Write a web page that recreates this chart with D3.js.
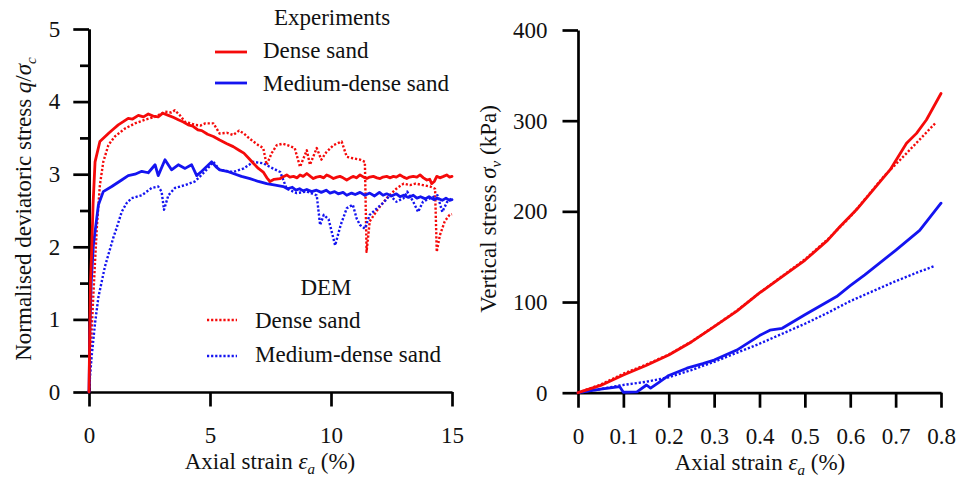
<!DOCTYPE html>
<html><head><meta charset="utf-8">
<script src="https://cdn.jsdelivr.net/npm/d3@7"></script>
<style>
body{margin:0;background:#fff}
text{font-family:"Liberation Serif","Times New Roman",serif;fill:#111}
</style>
</head><body>
<svg id="c" width="956" height="479" xmlns="http://www.w3.org/2000/svg"></svg>
<script>
// ---------------- DATA ----------------
const leftXTicks = [0, 5, 10, 15];
const leftYTicks = [0, 1, 2, 3, 4, 5];
const leftYMinor = [0.5, 1.5, 2.5, 3.5, 4.5];
const rightXTicks = [0, 0.1, 0.2, 0.3, 0.4, 0.5, 0.6, 0.7, 0.8];
const rightXLabels = ["0", "0.1", "0.2", "0.3", "0.4", "0.5", "0.6", "0.7", "0.8"];
const rightYTicks = [0, 100, 200, 300, 400];

// Left panel: normalised deviatoric stress vs axial strain (%)
const expDense = [[0,0],[0.03,0.8],[0.06,1.5],[0.11,1.95],[0.17,2.6],[0.25,3.17],[0.45,3.45],[0.8,3.56],[1.0,3.62],[1.21,3.68],[1.4,3.72],[1.62,3.77],[1.8,3.76],[2.04,3.81],[2.25,3.79],[2.45,3.83],[2.65,3.8],[2.86,3.79],[3.05,3.84],[3.28,3.81],[3.5,3.78],[3.69,3.75],[3.9,3.72],[4.1,3.68],[4.3,3.66],[4.5,3.61],[4.66,3.6],[4.9,3.55],[5.14,3.52],[5.4,3.47],[5.7,3.42],[5.96,3.38],[6.2,3.33],[6.4,3.29],[6.6,3.22],[6.79,3.15],[7.0,3.08],[7.2,3.03],[7.35,2.95],[7.48,2.9],[7.65,2.93],[7.9,2.94],[8.05,2.97],[8.17,2.99],[8.3,2.96],[8.45,2.97],[8.6,2.95],[8.72,2.99],[8.85,2.97],[9.0,3.01],[9.15,2.97],[9.27,2.94],[9.4,2.96],[9.55,2.97],[9.7,2.95],[9.82,2.99],[9.95,2.97],[10.1,2.94],[10.25,2.96],[10.37,2.97],[10.5,2.95],[10.65,2.92],[10.8,2.95],[10.93,2.97],[11.05,2.95],[11.2,2.99],[11.35,2.96],[11.48,2.94],[11.6,2.96],[11.75,2.97],[11.9,2.95],[12.03,2.94],[12.15,2.96],[12.3,2.97],[12.45,2.95],[12.58,2.97],[12.7,2.96],[12.85,2.99],[13.0,2.96],[13.13,2.94],[13.25,2.96],[13.4,2.97],[13.55,2.96],[13.68,2.99],[13.82,2.95],[13.96,2.92],[14.08,2.93],[14.16,2.87],[14.27,2.9],[14.37,2.97],[14.5,2.95],[14.65,2.97],[14.78,2.99],[14.9,2.96],[15,2.97]];
const expMedium = [[0,0],[0.04,0.9],[0.09,1.5],[0.18,2.02],[0.39,2.58],[0.59,2.76],[0.94,2.83],[1.35,2.92],[1.62,2.98],[1.9,3.0],[2.18,3.04],[2.45,3.02],[2.73,3.13],[2.86,2.98],[3.14,3.2],[3.41,3.06],[3.69,3.13],[3.97,3.08],[4.24,3.13],[4.45,2.98],[4.66,3.04],[5.07,3.17],[5.25,3.1],[5.4,3.06],[5.7,3.04],[5.96,3.01],[6.3,2.97],[6.65,2.94],[7.0,2.9],[7.34,2.87],[7.7,2.85],[8.03,2.83],[8.2,2.8],[8.4,2.82],[8.55,2.78],[8.7,2.8],[8.85,2.77],[9.0,2.79],[9.2,2.76],[9.4,2.78],[9.6,2.75],[9.8,2.78],[9.96,2.74],[10.15,2.76],[10.3,2.73],[10.5,2.75],[10.65,2.71],[10.85,2.74],[11.0,2.72],[11.2,2.75],[11.4,2.71],[11.6,2.74],[11.8,2.7],[12.0,2.75],[12.15,2.71],[12.3,2.73],[12.5,2.7],[12.7,2.73],[12.85,2.69],[13.0,2.71],[13.2,2.68],[13.4,2.71],[13.55,2.67],[13.7,2.69],[13.9,2.66],[14.05,2.69],[14.25,2.65],[14.4,2.67],[14.6,2.64],[14.75,2.67],[14.9,2.64],[15,2.65]];
const demDense = [[0,0],[0.08,0.6],[0.16,1.2],[0.25,1.8],[0.33,2.3],[0.45,2.85],[0.59,3.17],[0.8,3.4],[1.07,3.52],[1.49,3.63],[1.9,3.7],[2.31,3.75],[2.72,3.79],[3.14,3.86],[3.4,3.85],[3.55,3.88],[3.76,3.81],[3.97,3.72],[4.2,3.7],[4.38,3.68],[4.6,3.67],[4.8,3.7],[5.14,3.7],[5.4,3.56],[5.7,3.57],[5.96,3.54],[6.2,3.6],[6.4,3.56],[6.6,3.5],[6.79,3.45],[7.0,3.4],[7.2,3.36],[7.34,3.13],[7.55,3.29],[7.76,3.4],[8.0,3.42],[8.2,3.4],[8.5,3.36],[8.72,3.1],[9.0,3.33],[9.13,3.13],[9.41,3.36],[9.6,3.2],[9.8,3.3],[10.1,3.4],[10.44,3.45],[10.65,3.24],[10.9,3.22],[11.2,3.2],[11.4,3.17],[11.47,1.93],[11.6,2.35],[11.9,2.5],[12.3,2.67],[12.7,2.8],[13.0,2.87],[13.26,2.85],[13.5,2.87],[13.8,2.85],[14.1,2.83],[14.3,2.8],[14.37,1.93],[14.5,2.16],[14.7,2.35],[14.9,2.44],[15,2.45]];
const demMedium = [[0,0],[0.05,0.25],[0.11,0.49],[0.25,0.95],[0.39,1.31],[0.66,1.73],[1.0,2.12],[1.2,2.32],[1.35,2.48],[1.55,2.6],[1.76,2.67],[2.18,2.71],[2.59,2.81],[2.86,2.83],[3.0,2.76],[3.1,2.51],[3.28,2.71],[3.55,2.81],[3.97,2.85],[4.38,2.9],[4.8,3.04],[5.14,3.17],[5.4,3.06],[5.96,3.03],[6.4,3.08],[6.79,3.17],[7.2,3.15],[7.48,3.1],[7.9,3.03],[8.17,2.8],[8.58,2.74],[9.0,2.76],[9.41,2.71],[9.55,2.3],[9.7,2.44],[9.9,2.38],[10.17,2.02],[10.4,2.3],[10.65,2.53],[10.9,2.58],[11.06,2.39],[11.2,2.3],[11.4,2.25],[11.6,2.44],[11.9,2.53],[12.2,2.62],[12.44,2.71],[12.7,2.62],[13.0,2.67],[13.15,2.76],[13.4,2.62],[13.6,2.48],[13.8,2.62],[14.1,2.67],[14.4,2.71],[14.6,2.48],[14.8,2.62],[15,2.67]];

// Right panel: vertical stress (kPa) vs axial strain (%)
const expDenseV = [[0,0],[0.05,8],[0.1,19.5],[0.15,30],[0.2,41.5],[0.25,56],[0.3,72.8],[0.35,90],[0.4,110],[0.45,128],[0.5,146],[0.55,168],[0.577,183],[0.614,202],[0.651,224],[0.688,246],[0.724,275],[0.746,286],[0.768,301],[0.8,330]];
const demDenseV = [[0,0],[0.05,9],[0.1,21],[0.15,31],[0.2,42],[0.25,56.5],[0.3,73],[0.35,90.5],[0.4,110],[0.45,128.5],[0.5,147],[0.55,169],[0.6,194],[0.64,218],[0.673,238],[0.724,264],[0.787,297]];
const expMediumV = [[0,0],[0.05,4],[0.092,6.6],[0.1,0.5],[0.13,1],[0.151,8.5],[0.16,5],[0.18,12],[0.2,19],[0.24,27],[0.275,32],[0.3,36],[0.35,47],[0.4,63],[0.423,69],[0.45,71],[0.5,86],[0.57,106],[0.6,118],[0.632,130],[0.7,157],[0.753,179],[0.8,209]];
const demMediumV = [[0,0],[0.05,4],[0.092,8],[0.15,12],[0.2,17],[0.25,25],[0.3,34],[0.35,44],[0.4,54],[0.45,65],[0.5,76],[0.55,88],[0.6,101],[0.65,112],[0.7,123],[0.75,133],[0.787,140]];

// ---------------- DRAW ----------------
const RED = "#f50a0a", BLUE = "#1414f0";
const FS = 23;
const svg = d3.select("#c");
svg.append("rect").attr("width",956).attr("height",479).attr("fill","#fff");

function styleAxis(g){
  g.select(".domain").attr("stroke","#000").attr("stroke-width",2.7);
  g.selectAll(".tick line").attr("stroke","#000").attr("stroke-width",2.7);
  g.selectAll(".tick text").attr("font-size",FS).attr("font-family",'"Liberation Serif",serif').attr("fill","#111");
}

// Left panel scales
const xL = d3.scaleLinear().domain([0,15]).range([89,452]);
const yL = d3.scaleLinear().domain([0,5]).range([392,29]);
// Right panel scales
const xR = d3.scaleLinear().domain([0,0.8]).range([578,941]);
const yR = d3.scaleLinear().domain([0,400]).range([392.7,30]);

// Left axes
svg.append("g").attr("transform","translate(0,392)")
  .call(d3.axisBottom(xL).tickValues(leftXTicks).tickFormat(d3.format("d")).tickSize(14.5).tickPadding(20).tickSizeOuter(0))
  .call(styleAxis);
svg.append("g").attr("transform","translate(89,0)")
  .call(d3.axisLeft(yL).tickValues(leftYMinor).tickFormat("").tickSize(9).tickSizeOuter(0))
  .call(styleAxis);
svg.append("g").attr("transform","translate(89,0)")
  .call(d3.axisLeft(yL).tickValues(leftYTicks).tickFormat(d3.format("d")).tickSize(15.7).tickPadding(13).tickSizeOuter(0))
  .call(styleAxis);

// Right axes
svg.append("g").attr("transform","translate(0,392.7)")
  .call(d3.axisBottom(xR).tickValues(rightXTicks).tickFormat((d,i)=>rightXLabels[i]).tickSize(15).tickPadding(20).tickSizeOuter(0))
  .call(styleAxis);
svg.append("g").attr("transform","translate(578,0)")
  .call(d3.axisLeft(yR).tickValues(rightYTicks).tickFormat(d3.format("d")).tickSize(15.5).tickPadding(15).tickSizeOuter(0))
  .call(styleAxis);

// Lines
function drawLine(data, xs, ys, color, dotted){
  const line = d3.line().x(d=>xs(d[0])).y(d=>ys(d[1]));
  const p = svg.append("path").datum(data).attr("d",line)
    .attr("fill","none").attr("stroke",color)
    .attr("stroke-linejoin","round");
  if(dotted){ p.attr("stroke-width",2.4).attr("stroke-dasharray","2.2 1.9"); }
  else { p.attr("stroke-width",2.8).attr("stroke-linecap","round"); }
}
drawLine(demDense, xL, yL, RED, true);
drawLine(demMedium, xL, yL, BLUE, true);
drawLine(expMedium, xL, yL, BLUE, false);
drawLine(expDense, xL, yL, RED, false);

drawLine(demDenseV, xR, yR, RED, true);
drawLine(demMediumV, xR, yR, BLUE, true);
drawLine(expMediumV, xR, yR, BLUE, false);
drawLine(expDenseV, xR, yR, RED, false);

// Axis titles
function xTitle(cx, y){
  const t = svg.append("text").attr("x",cx).attr("y",y).attr("text-anchor","middle").attr("font-size",FS);
  t.append("tspan").text("Axial strain ");
  t.append("tspan").attr("font-style","italic").text("ε");
  t.append("tspan").attr("font-style","italic").attr("font-size",15).attr("dy",5).text("a");
  t.append("tspan").attr("dy",-5).text(" (%)");
}
xTitle(270, 469);
xTitle(760, 470);

// Left y title
{
  const t = svg.append("text").attr("transform","translate(31,209) rotate(-90)")
    .attr("text-anchor","middle").attr("font-size",FS);
  t.append("tspan").text("Normalised deviatoric stress ");
  t.append("tspan").attr("font-style","italic").text("q");
  t.append("tspan").text("/");
  t.append("tspan").attr("font-style","italic").text("σ");
  t.append("tspan").attr("font-style","italic").attr("font-size",15).attr("dy",5).text("c");
}
// Right y title
{
  const t = svg.append("text").attr("transform","translate(496,209) rotate(-90)")
    .attr("text-anchor","middle").attr("font-size",FS);
  t.append("tspan").text("Vertical stress ");
  t.append("tspan").attr("font-style","italic").text("σ");
  t.append("tspan").attr("font-style","italic").attr("font-size",15).attr("dy",5).text("v");
  t.append("tspan").attr("dy",-5).text(" (kPa)");
}

// Legends
function legendTitle(cx, y, label){
  svg.append("text").attr("x",cx).attr("y",y).attr("text-anchor","middle").attr("font-size",FS).text(label);
}
function legendItem(x1, x2, ly, tx, ty, color, dotted, label){
  const l = svg.append("line").attr("x1",x1).attr("x2",x2).attr("y1",ly).attr("y2",ly).attr("stroke",color);
  if(dotted) l.attr("stroke-width",2.4).attr("stroke-dasharray","2.2 1.9");
  else l.attr("stroke-width",2.8);
  svg.append("text").attr("x",tx).attr("y",ty).attr("font-size",FS).text(label);
}
legendTitle(332, 25, "Experiments");
legendItem(215, 247, 52, 263, 58, RED, false, "Dense sand");
legendItem(215, 247, 83, 263, 91, BLUE, false, "Medium-dense sand");
legendTitle(326, 295, "DEM");
legendItem(207, 237, 320, 255, 328, RED, true, "Dense sand");
legendItem(207, 237, 356, 255, 362, BLUE, true, "Medium-dense sand");
</script>
</body></html>
